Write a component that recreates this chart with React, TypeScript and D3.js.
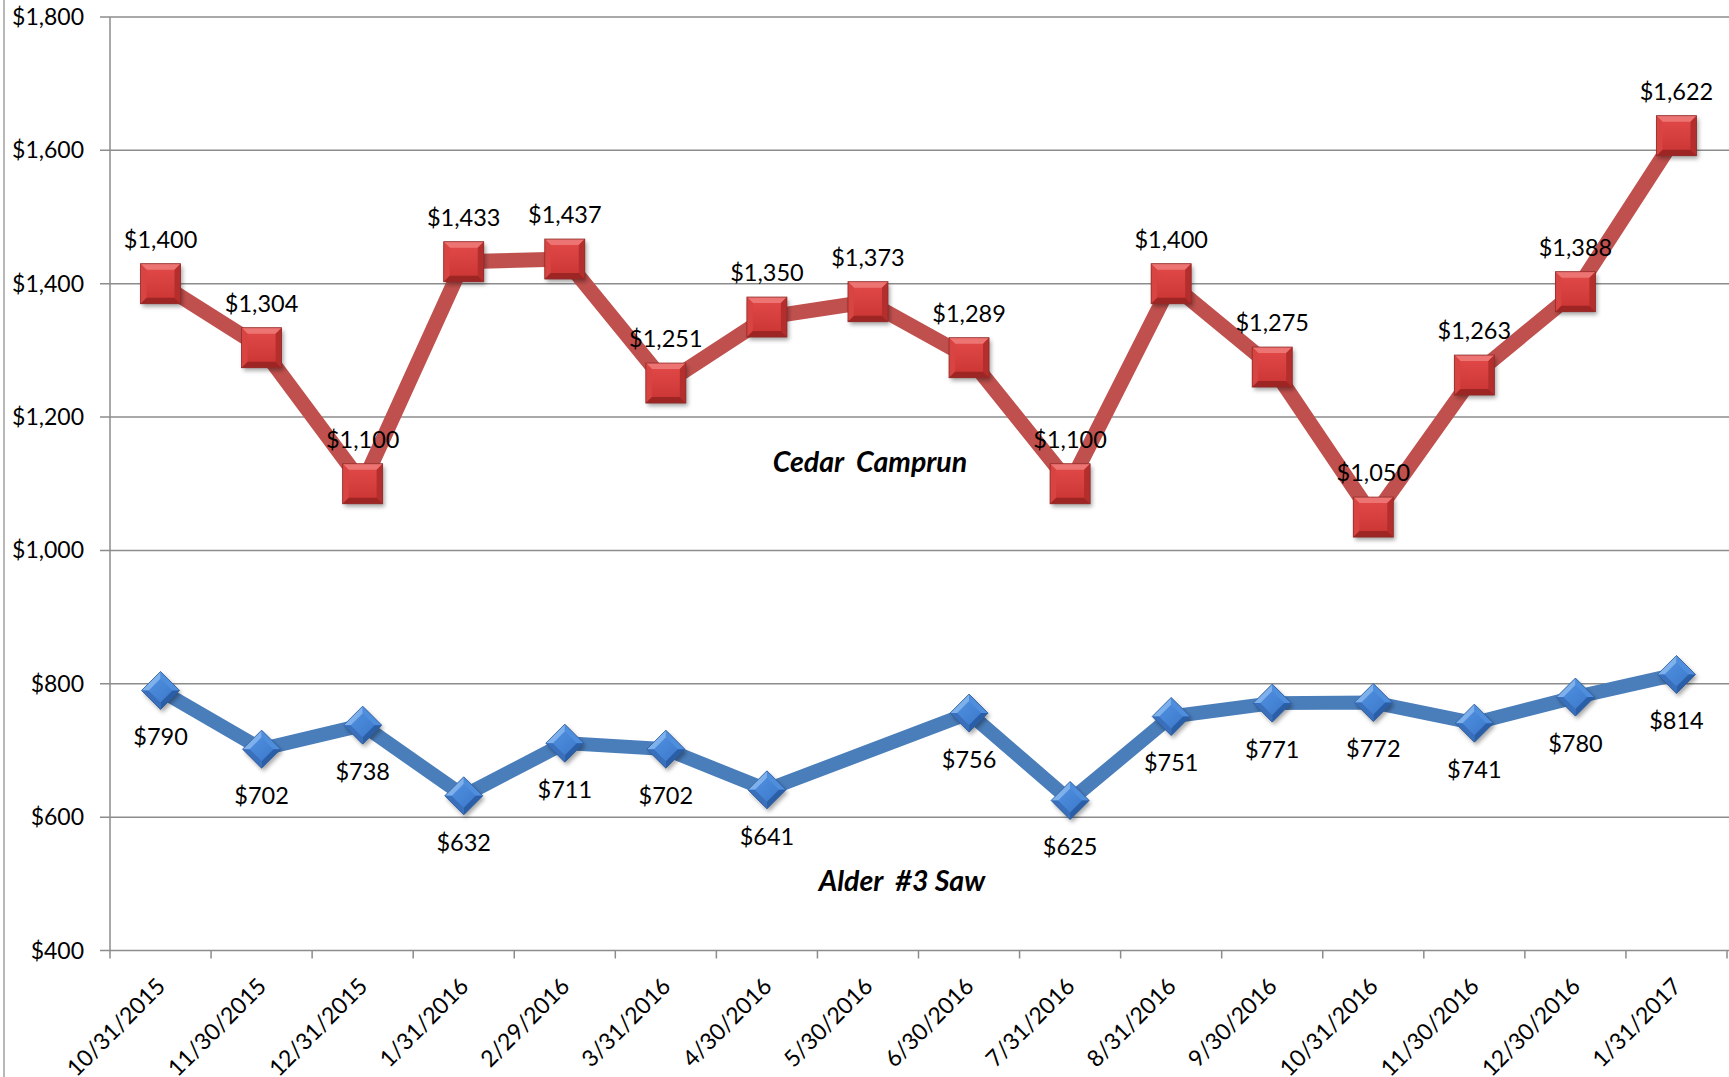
import React from "react";
import * as d3 from "d3";

const categories = [
  "10/31/2015", "11/30/2015", "12/31/2015", "1/31/2016", "2/29/2016", "3/31/2016",
  "4/30/2016", "5/30/2016", "6/30/2016", "7/31/2016", "8/31/2016", "9/30/2016",
  "10/31/2016", "11/30/2016", "12/30/2016", "1/31/2017",
];
const cedarValues: (number | null)[] = [
  1400, 1304, 1100, 1433, 1437, 1251, 1350, 1373, 1289, 1100, 1400, 1275, 1050, 1263, 1388, 1622,
];
const alderValues: (number | null)[] = [
  790, 702, 738, 632, 711, 702, 641, null, 756, 625, 751, 771, 772, 741, 780, 814,
];
const yTicks = [400, 600, 800, 1000, 1200, 1400, 1600, 1800];
const cedarName = "Cedar  Camprun";
const alderName = "Alder  #3 Saw";

const W = 1729;
const H = 1077;
const FONT = "Lato, 'Open Sans', sans-serif";

export default function App() {
  const x = d3.scaleBand<string>().domain(categories).range([110, 1727]);
  const bw = x.bandwidth();
  const cx = (c: string) => (x(c) as number) + bw / 2;
  const y = d3.scaleLinear().domain([400, 1800]).range([950.5, 17]);
  const money = (v: number) => "$" + d3.format(",")(v);

  const line = d3
    .line<{ c: string; v: number }>()
    .x((d) => cx(d.c))
    .y((d) => y(d.v));

  const cedarPts = categories
    .map((c, i) => ({ c, v: cedarValues[i] as number }))
    .filter((d) => d.v != null);
  const alderPts = categories
    .map((c, i) => ({ c, v: alderValues[i] as number }))
    .filter((d) => d.v != null);

  const s = 20, b = 6, si = s - b;
  const sq = (pts: number[][]) => pts.map((p) => p.join(",")).join(" ");
  const dOut = 19, dIn = 12;

  return (
    <svg
      width={W}
      height={H}
      style={{ position: "absolute", left: 0, top: 0, background: "#fff" }}
      fontFamily={FONT}
    >
      <defs>
        <linearGradient id="redFace" x1="0" y1="0" x2="0" y2="1">
          <stop offset="0" stopColor="#e24a48" />
          <stop offset="1" stopColor="#c93533" />
        </linearGradient>
        <linearGradient id="blueFace" x1="0" y1="0" x2="1" y2="1">
          <stop offset="0" stopColor="#5596e4" />
          <stop offset="1" stopColor="#3772c6" />
        </linearGradient>
        <filter id="shadow" x="-50%" y="-50%" width="200%" height="200%">
          <feGaussianBlur stdDeviation="2" />
        </filter>
      </defs>

      {/* left frame line */}
      <line x1={4} x2={4} y1={0} y2={H} stroke="#a0a0a0" strokeWidth={1.5} />

      {/* gridlines + y ticks */}
      {yTicks.map((t) => (
        <g key={t}>
          <line x1={100} x2={W} y1={y(t)} y2={y(t)} stroke="#8c8c8c" strokeWidth={1.5} />
          <text
            x={84}
            y={y(t)}
            dy="0.35em"
            textAnchor="end"
            fontSize={23}
            fill="#000"
          >
            {money(t)}
          </text>
        </g>
      ))}
      {/* y axis */}
      <line x1={110} x2={110} y1={y(1800)} y2={y(400)} stroke="#8c8c8c" strokeWidth={1.5} />
      {/* x axis ticks */}
      {d3.range(categories.length + 1).map((i) => (
        <line
          key={i}
          x1={110 + i * bw}
          x2={110 + i * bw}
          y1={y(400)}
          y2={y(400) + 8}
          stroke="#8c8c8c"
          strokeWidth={1.5}
        />
      ))}
      {/* x labels */}
      {categories.map((c) => (
        <text
          key={c}
          transform={`translate(${cx(c) - 6},${y(400) + 25}) rotate(-45)`}
          textAnchor="end"
          dy="0.75em"
          fontSize={23}
          fill="#000"
        >
          {c}
        </text>
      ))}

      {/* lines */}
      <path d={line(cedarPts) || ""} fill="none" stroke="#c0504d" strokeWidth={15} strokeLinejoin="miter" />
      <path d={line(alderPts) || ""} fill="none" stroke="#4a7ebb" strokeWidth={14} strokeLinejoin="miter" />

      {/* Cedar markers */}
      {cedarPts.map((d) => (
        <g key={"cm" + d.c} transform={`translate(${cx(d.c)},${y(d.v)})`}>
          <rect x={-s + 2} y={-s + 3} width={2 * s} height={2 * s} fill="rgba(0,0,0,0.35)" filter="url(#shadow)" />
          <rect x={-s} y={-s} width={2 * s} height={2 * s} fill="url(#redFace)" />
          <polygon points={sq([[-s, -s], [s, -s], [si, -si], [-si, -si]])} fill="#ec7472" />
          <polygon points={sq([[-s, -s], [-si, -si], [-si, si], [-s, s]])} fill="#d84441" />
          <polygon points={sq([[s, -s], [s, s], [si, si], [si, -si]])} fill="#b32e2c" />
          <polygon points={sq([[-s, s], [-si, si], [si, si], [s, s]])} fill="#9d2624" />
          <rect x={-s} y={-s} width={2 * s} height={2 * s} fill="none" stroke="#8f2b29" strokeWidth={0.8} />
        </g>
      ))}

      {/* Alder markers */}
      {alderPts.map((d) => (
        <g key={"am" + d.c} transform={`translate(${cx(d.c)},${y(d.v)})`}>
          <polygon
            points={sq([[2, -dOut + 3], [dOut + 2, 3], [2, dOut + 3], [-dOut + 2, 3]])}
            fill="rgba(0,0,0,0.35)"
            filter="url(#shadow)"
          />
          <polygon points={sq([[0, -dOut], [dOut, 0], [0, dOut], [-dOut, 0]])} fill="url(#blueFace)" />
          <polygon points={sq([[-dOut, 0], [0, -dOut], [0, -dIn], [-dIn, 0]])} fill="#7eb1ec" />
          <polygon points={sq([[0, -dOut], [dOut, 0], [dIn, 0], [0, -dIn]])} fill="#4f8edc" />
          <polygon points={sq([[dOut, 0], [0, dOut], [0, dIn], [dIn, 0]])} fill="#2a5ea6" />
          <polygon points={sq([[0, dOut], [-dOut, 0], [-dIn, 0], [0, dIn]])} fill="#3a70bb" />
          <polygon points={sq([[0, -dOut], [dOut, 0], [0, dOut], [-dOut, 0]])} fill="none" stroke="#2d5c99" strokeWidth={0.8} />
        </g>
      ))}

      {/* data labels */}
      {cedarPts.map((d) => (
        <text key={"cl" + d.c} x={cx(d.c)} y={y(d.v) - 36} textAnchor="middle" fontSize={23.5} fill="#000">
          {money(d.v)}
        </text>
      ))}
      {alderPts.map((d) => (
        <text key={"al" + d.c} x={cx(d.c)} y={y(d.v) + 55} textAnchor="middle" fontSize={23.5} fill="#000">
          {money(d.v)}
        </text>
      ))}

      {/* series names */}
      <text
        x={870}
        y={472}
        textAnchor="middle"
        fontSize={28.5}
        fontWeight="bold"
        fontStyle="italic"
        style={{ whiteSpace: "pre" }}
      >
        {cedarName}
      </text>
      <text
        x={902}
        y={891}
        textAnchor="middle"
        fontSize={28.5}
        fontWeight="bold"
        fontStyle="italic"
        style={{ whiteSpace: "pre" }}
      >
        {alderName}
      </text>
    </svg>
  );
}
